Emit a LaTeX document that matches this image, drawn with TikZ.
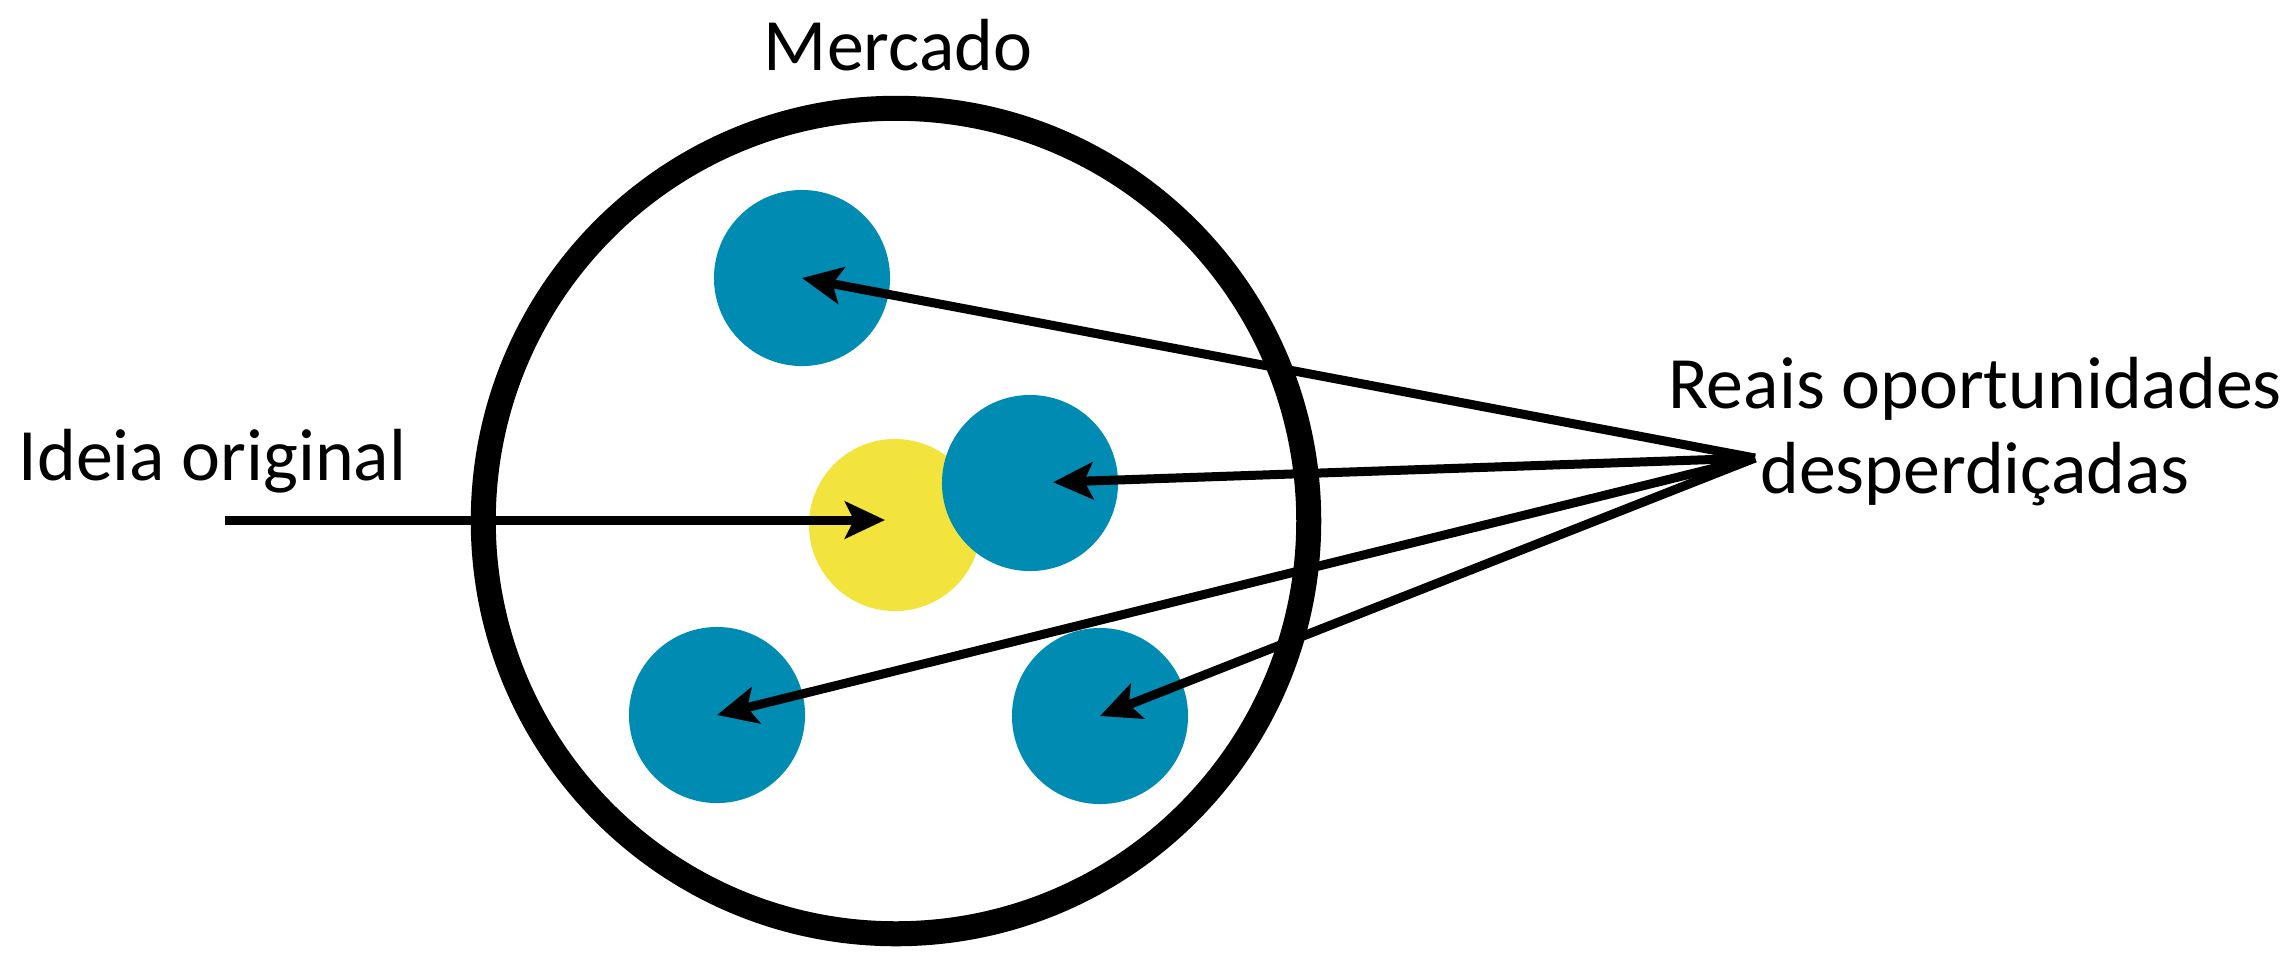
\documentclass[tikz,border=0pt]{standalone}
\usepackage{fontspec}
\setmainfont{Carlito}
\usetikzlibrary{arrows.meta, positioning, shapes.geometric}
\definecolor{oppblue}{RGB}{0,139,178}
\definecolor{ideayellow}{RGB}{242,228,60}
\tikzset{
    spot/.style={circle, fill=oppblue, minimum size=1.76cm, inner sep=0pt},
    arrow/.style={-{Stealth[length=0.4cm, width=0.37cm, inset=0.09cm]}, line width=0.09cm, black},
    txt/.style={inner sep=0pt, font=\fontsize{21}{24}\selectfont}
}
\begin{document}
\begin{tikzpicture}[x=0.01cm, y=-0.01cm]
        \useasboundingbox (0,0) rectangle (2295,953);
        % The market with the ideas inside
        \node [draw, circle, line width=0.25cm, minimum size=8.25cm, inner sep=0pt] (mercado) at (896,521) {};
        \node [spot] (opp1) at (802,278) {};
        \node [spot, fill=ideayellow, minimum size=1.72cm] (ideia) at (895,525) {};
        \node [spot] (opp2) at (1030,483) {};
        \node [spot] (opp3) at (717,715) {};
        \node [spot] (opp4) at (1100,716) {};

        % Labels
        \node [txt, anchor=base] (mkt) at (898,70) {Mercado};
        \node [txt, anchor=base west] (orig) at (18,480) {Ideia original};
        \node [txt, align=center, anchor=base] (reais) at (1975,493) {Reais oportunidades\\desperdiçadas};

        % Arrows
        \coordinate (start) at (225,520);
        \coordinate (apex) at (1755,458);
        \draw [arrow, shorten >=0.1cm] (start) -- (start -| ideia.center);
        \foreach \o/\s in {opp1/0, opp2/0.23, opp3/0, opp4/0}
            \draw [arrow, shorten >=\s cm] (apex) -- (\o.center);
    \end{tikzpicture}
\end{document}
